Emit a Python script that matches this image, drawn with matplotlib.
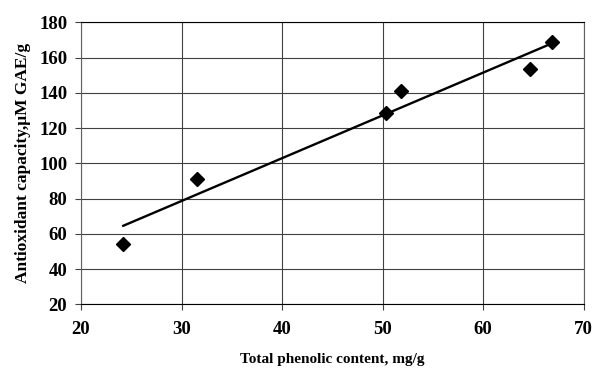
import numpy as np
import matplotlib
matplotlib.use("Agg")
import matplotlib.pyplot as plt

# data
phenolic = [24.2, 31.5, 50.3, 51.8, 64.7, 66.8]
antiox = [54.0, 91.1, 128.7, 141.2, 153.5, 168.6]
x_ticks = [20, 30, 40, 50, 60, 70]
y_ticks = [20, 40, 60, 80, 100, 120, 140, 160, 180]

plt.rcParams['font.family'] = ['Liberation Serif', 'DejaVu Serif']
plt.rcParams['font.weight'] = 'bold'

fig = plt.figure(figsize=(5.94, 3.69), dpi=100)
ax = fig.add_axes([0.1364, 0.1753, 0.8463, 0.7643])

# linear trend line over the data range
slope, icpt = np.polyfit(phenolic, antiox, 1)
xl = np.array([min(phenolic), max(phenolic)])
ax.plot(xl, slope * xl + icpt, color='black', lw=1.7, zorder=3)
ax.plot(phenolic, antiox, 'D', color='black', markersize=7, zorder=4)

ax.set_xlim(20, 70)
ax.set_ylim(20, 180)
ax.set_xticks(x_ticks)
ax.set_yticks(y_ticks)
ax.grid(True, color='#404040', lw=0.8)
ax.set_axisbelow(True)
for s in ax.spines.values():
    s.set_color('#606060')
    s.set_linewidth(0.8)
ax.spines['bottom'].set_color('black')
ax.spines['top'].set_color('black')
ax.tick_params(direction='out', length=4, width=0.8, color='#404040',
               labelsize=13.5)
ax.tick_params(axis='x', pad=8)
ax.tick_params(axis='y', pad=6)
for lab in ax.get_xticklabels() + ax.get_yticklabels():
    lab.set_fontweight('bold')

ax.set_xlabel('Total phenolic content, mg/g', fontsize=11, fontweight='bold', labelpad=11)
ax.set_ylabel('Antioxidant capacity,\u03bcM GAE/g', fontsize=12.5, fontweight='bold', labelpad=6)

fig.savefig('out.png', dpi=100)
plt.close(fig)
